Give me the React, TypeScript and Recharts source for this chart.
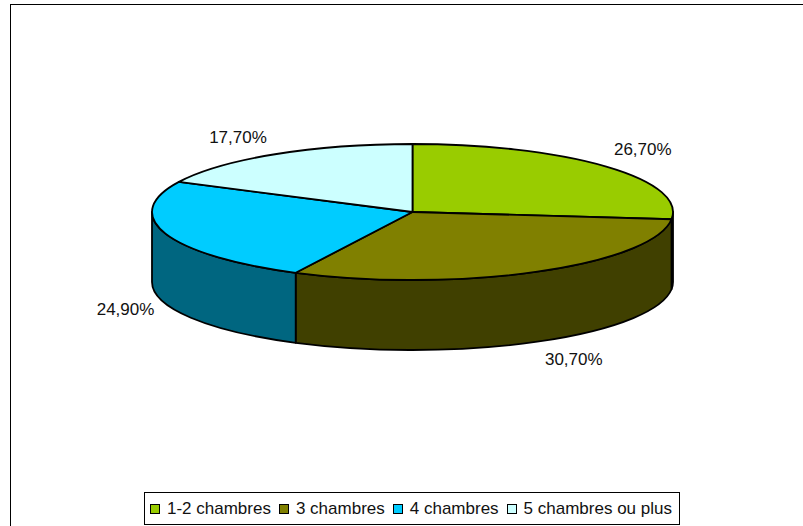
import React from 'react';
import { PieChart, Pie, Legend } from 'recharts';

const categories = ['1-2 chambres', '3 chambres', '4 chambres', '5 chambres ou plus'];
const shares = [26.7, 30.7, 24.9, 17.7];
const topColors = ['#99CC00', '#808000', '#00CCFF', '#CCFFFF'];
const sideColors = ['#4D6600', '#404000', '#006680', '#668080'];

const data = categories.map((name, i) => ({
  name,
  value: shares[i],
  fill: topColors[i],
  side: sideColors[i],
}));

const FONT = '"Liberation Sans", Arial, sans-serif';
const SQUASH = 68 / 260.5; // tilt of the disc
const DEPTH = 70;

const toRad = (deg: number) => (deg * Math.PI) / 180;

// recharts hands out circle angles, flatten them onto the ellipse
function pointAt(cx: number, cy: number, r: number, angle: number) {
  return {
    x: cx + r * Math.cos(toRad(angle)),
    y: cy - r * SQUASH * Math.sin(toRad(angle)),
  };
}

function DiscSlice(props: any) {
  const { cx, cy, outerRadius: r, startAngle, endAngle, fill, payload } = props;
  const ry = r * SQUASH;
  const a = pointAt(cx, cy, r, startAngle);
  const b = pointAt(cx, cy, r, endAngle);
  const large = Math.abs(endAngle - startAngle) > 180 ? 1 : 0;
  const top = `M${cx},${cy} L${a.x},${a.y} A${r},${ry} 0 ${large} 1 ${b.x},${b.y} Z`;

  // only the part facing the viewer gets a wall (sin < 0)
  let wall = null;
  const from = Math.min(startAngle, 0);
  const to = Math.max(endAngle, -180);
  if (from > to) {
    const p = pointAt(cx, cy, r, from);
    const q = pointAt(cx, cy, r, to);
    wall = (
      <path
        d={`M${p.x},${p.y} A${r},${ry} 0 0 1 ${q.x},${q.y} L${q.x},${q.y + DEPTH} A${r},${ry} 0 0 0 ${p.x},${p.y + DEPTH} Z`}
        fill={payload.side}
        stroke="#000"
        strokeWidth={1.8}
        strokeLinejoin="round"
      />
    );
  }
  return (
    <g>
      {wall}
      <path d={top} fill={fill} stroke="#000" strokeWidth={1.8} strokeLinejoin="round" />
    </g>
  );
}

function SliceLabel(props: any) {
  const { cx, cy, outerRadius, midAngle, value } = props;
  const edge = pointAt(cx, cy, outerRadius, midAngle);
  const sin = Math.sin(toRad(midAngle));
  const upper = sin > 0;
  const dx = Math.cos(toRad(midAngle)) > 0 ? 36.5 : upper ? -37 : -40;
  const dy = upper ? -17 : DEPTH + 20 * Math.abs(sin);
  return (
    <text
      x={edge.x + dx}
      y={edge.y + dy}
      textAnchor="middle"
      dominantBaseline="central"
      fontFamily={FONT}
      fontSize={17}
      fill="#111"
    >
      {value.toFixed(2).replace('.', ',') + '%'}
    </text>
  );
}

function LegendBox({ payload }: any) {
  return (
    <div
      style={{
        boxSizing: 'border-box',
        width: 536,
        height: 33,
        border: '1px solid #000',
        background: '#fff',
        display: 'flex',
        alignItems: 'center',
        paddingLeft: 5,
        fontFamily: FONT,
        fontSize: 17,
        color: '#111',
        whiteSpace: 'nowrap',
      }}
    >
      {(payload || []).map((item: any) => (
        <span key={item.value} style={{ display: 'flex', alignItems: 'center', flex: 'none', marginRight: 8 }}>
          <span
            style={{
              boxSizing: 'border-box',
              flex: 'none',
              width: 10,
              height: 10,
              marginRight: 7,
              border: '1.5px solid #000',
              background: item.color,
            }}
          />
          {item.value}
        </span>
      ))}
    </div>
  );
}

export default function App() {
  return (
    <div style={{ position: 'absolute', left: 0, top: 0, width: 803, height: 526, overflow: 'hidden', background: '#fff' }}>
      <div
        style={{
          position: 'absolute',
          left: 10,
          top: 4,
          width: 820,
          height: 560,
          borderLeft: '1.5px solid #000',
          borderTop: '1.5px solid #000',
        }}
      />
      <PieChart width={803} height={526} margin={{ top: 0, right: 0, bottom: 0, left: 0 }}>
        <Pie
          data={data}
          dataKey="value"
          nameKey="name"
          cx={412.5}
          cy={212}
          innerRadius={0}
          outerRadius={260.5}
          startAngle={90}
          endAngle={-270}
          shape={DiscSlice}
          label={SliceLabel}
          labelLine={false}
          isAnimationActive={false}
        />
        <Legend
          content={LegendBox}
          wrapperStyle={{ left: 144, top: 492, width: 536, height: 33, bottom: 'auto' }}
        />
      </PieChart>
    </div>
  );
}
